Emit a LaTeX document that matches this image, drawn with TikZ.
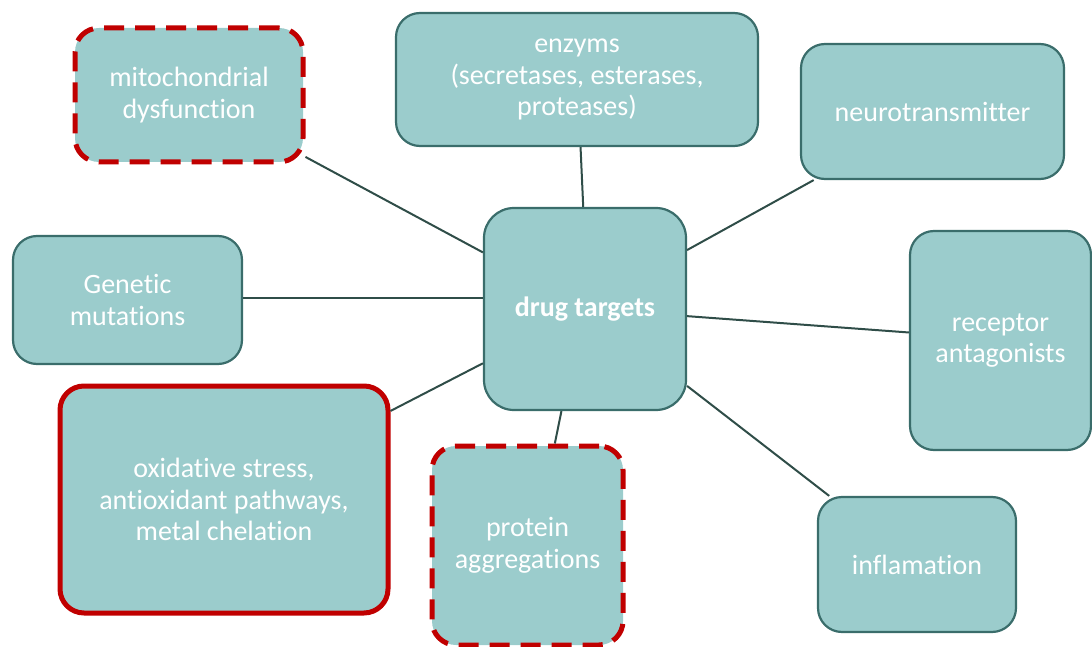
\documentclass[tikz,border=0pt]{standalone}
\usepackage{fontspec}
\setmainfont{Carlito}[Ligatures=NoCommon]
\definecolor{boxfill}{HTML}{9BCCCC}
\definecolor{boxline}{HTML}{3A6D6B}
\definecolor{linkline}{HTML}{2F4D48}
\definecolor{accent}{HTML}{C00000}
\begin{document}
\begin{tikzpicture}[x=1pt,y=-1pt,
  topic/.style={draw=boxline, line width=2.2pt, fill=boxfill, rounded corners=24pt,
    inner sep=0pt, align=center, text=white,
    font=\fontsize{28}{31.5}\selectfont},
  hub/.style={topic, rounded corners=30pt, font=\fontsize{28}{31.5}\selectfont\bfseries},
  redsolid/.style={draw=accent, line width=5pt},
  reddash/.style={draw=accent, line width=5pt, dash pattern=on 20pt off 11pt},
  link/.style={draw=linkline, line width=2pt}]
\useasboundingbox (0,0) rectangle (1092,647);

\node[topic, reddash, minimum width=228pt, minimum height=134pt] (mito) at (189,95)
  {mitochondrial\\dysfunction};
\node[topic, minimum width=362pt, minimum height=133pt] (enz) at (577,79.5)
  {enzyms\\(secretases, esterases,\\proteases)};
\node[topic, minimum width=263pt, minimum height=135pt] (neuro) at (932.5,111.5)
  {neurotransmitter};
\node[topic, minimum width=229pt, minimum height=128pt] (gen) at (127.5,300)
  {Genetic\\mutations};
\node[hub, minimum width=202pt, minimum height=202pt] (dt) at (585,309)
  {drug targets};
\node[topic, minimum width=181pt, minimum height=219pt] (rec) at (1000.5,340.5)
  {receptor\\antagonists};
\node[topic, redsolid, minimum width=328pt, minimum height=227pt] (ox) at (224,499.5)
  {oxidative stress,\\antioxidant pathways,\\metal chelation};
\node[topic, reddash, minimum width=191pt, minimum height=199pt] (prot) at (527.5,545.5)
  {protein\\aggregations};
\node[topic, minimum width=198pt, minimum height=135pt] (infl) at (917,564.5)
  {inflamation};

\draw[link] (dt.151.9) -- (mito.-28.5);
\draw[link] (dt.91.7) -- (enz.-87.4);
\draw[link] (dt.30.3) -- (neuro.-150.3);
\draw[link] (dt.174.9) -- (dt.174.9 -| gen.east);
\draw[link] (dt.-4.5) -- (rec.175.9);
\draw[link] (dt.208.6) -- (ox.28.1);
\draw[link] (dt.-103.9) -- (prot.75.6);
\draw[link] (dt.-37.3) -- (infl.142.2);
\end{tikzpicture}
\end{document}
